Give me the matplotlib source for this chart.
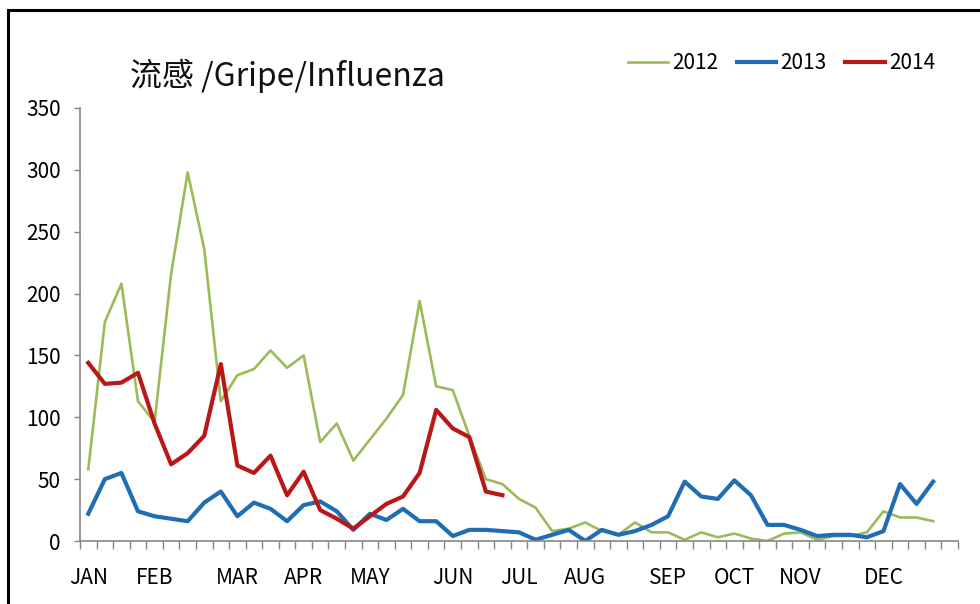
import matplotlib
matplotlib.use("Agg")
import matplotlib.pyplot as plt
from matplotlib.patches import Rectangle
import numpy as np

plt.rcParams['font.family'] = ['Liberation Sans Narrow', 'Noto Sans CJK SC', 'DejaVu Sans']

# --- data (weekly cases) ---
flu_2012 = [58, 177, 208, 113, 96, 216, 298, 236, 113, 134,
            139, 154, 140, 150, 80, 95, 65, 82, 99, 118,
            194, 125, 122, 85, 50, 46, 34, 27, 8, 10,
            15, 8, 5, 15, 7, 7, 1, 7, 3, 6,
            2, 0, 6, 7, 1, 4, 4, 7, 24, 19,
            19, 16]
flu_2013 = [22, 50, 55, 24, 20, 18, 16, 31, 40, 20,
            31, 26, 16, 29, 32, 24, 9, 22, 17, 26,
            16, 16, 4, 9, 9, 8, 7, 1, 5, 9,
            0, 9, 5, 8, 13, 20, 48, 36, 34, 49,
            37, 13, 13, 9, 4, 5, 5, 3, 8, 46,
            30, 48]
flu_2014 = [144, 127, 128, 136, 95, 62, 71, 85, 143, 61,
            55, 69, 37, 56, 25, 18, 10, 20, 30, 36,
            55, 106, 91, 84, 40, 37]

n_weeks = 53
month_labels = ['JAN', 'FEB', 'MAR', 'APR', 'MAY', 'JUN',
                'JUL', 'AUG', 'SEP', 'OCT', 'NOV', 'DEC']
month_weeks = [0, 4, 9, 13, 17, 22, 26, 30, 35, 39, 43, 48]

fig = plt.figure(figsize=(9.8, 6.04), dpi=100)
ax = fig.add_axes([80/980, 63/604, 878/980, 433/604])

ax.plot(np.arange(len(flu_2012)), flu_2012, color='#9BBB59', lw=1.9, label='2012')
ax.plot(np.arange(len(flu_2013)), flu_2013, color='#1F6EB4', lw=3.0, label='2013')
ax.plot(np.arange(len(flu_2014)), flu_2014, color='#B81818', lw=3.0, label='2014')

ax.set_xlim(-0.5, n_weeks - 0.5)
ax.set_ylim(0, 350)
ax.set_yticks(np.arange(0, 351, 50))

ax.set_xticks(month_weeks)
ax.set_xticklabels(month_labels)
ax.set_xticks(np.arange(n_weeks + 1) - 0.5, minor=True)
ax.tick_params(axis='x', which='major', length=0, pad=19, labelsize=15)
ax.tick_params(axis='x', which='minor', length=6, width=1, color='#868686', direction='out')
ax.tick_params(axis='y', length=4, width=1, color='#868686', pad=10, labelsize=15)

for s in ['top', 'right']:
    ax.spines[s].set_visible(False)
for s in ['left', 'bottom']:
    ax.spines[s].set_color('#868686')
    ax.spines[s].set_linewidth(1.2)

fig.text(130/980, 1 - 86/604, '流感 /Gripe/Influenza', fontsize=23,
         ha='left', va='baseline', color='#111111')

leg = fig.legend(loc='center left', bbox_to_anchor=(628/980, 1 - 63/604), ncol=3,
                 frameon=False, fontsize=15, handlelength=1.9, handletextpad=0.2,
                 columnspacing=0.9, borderpad=0, borderaxespad=0)

# outer frame (left and top edges visible)
fig.patches.append(Rectangle((8/980, -0.1), 1.2, 1.1 - 10/604, transform=fig.transFigure,
                             fill=False, ec='black', lw=2.2))

fig.savefig('out.png', dpi=100)
